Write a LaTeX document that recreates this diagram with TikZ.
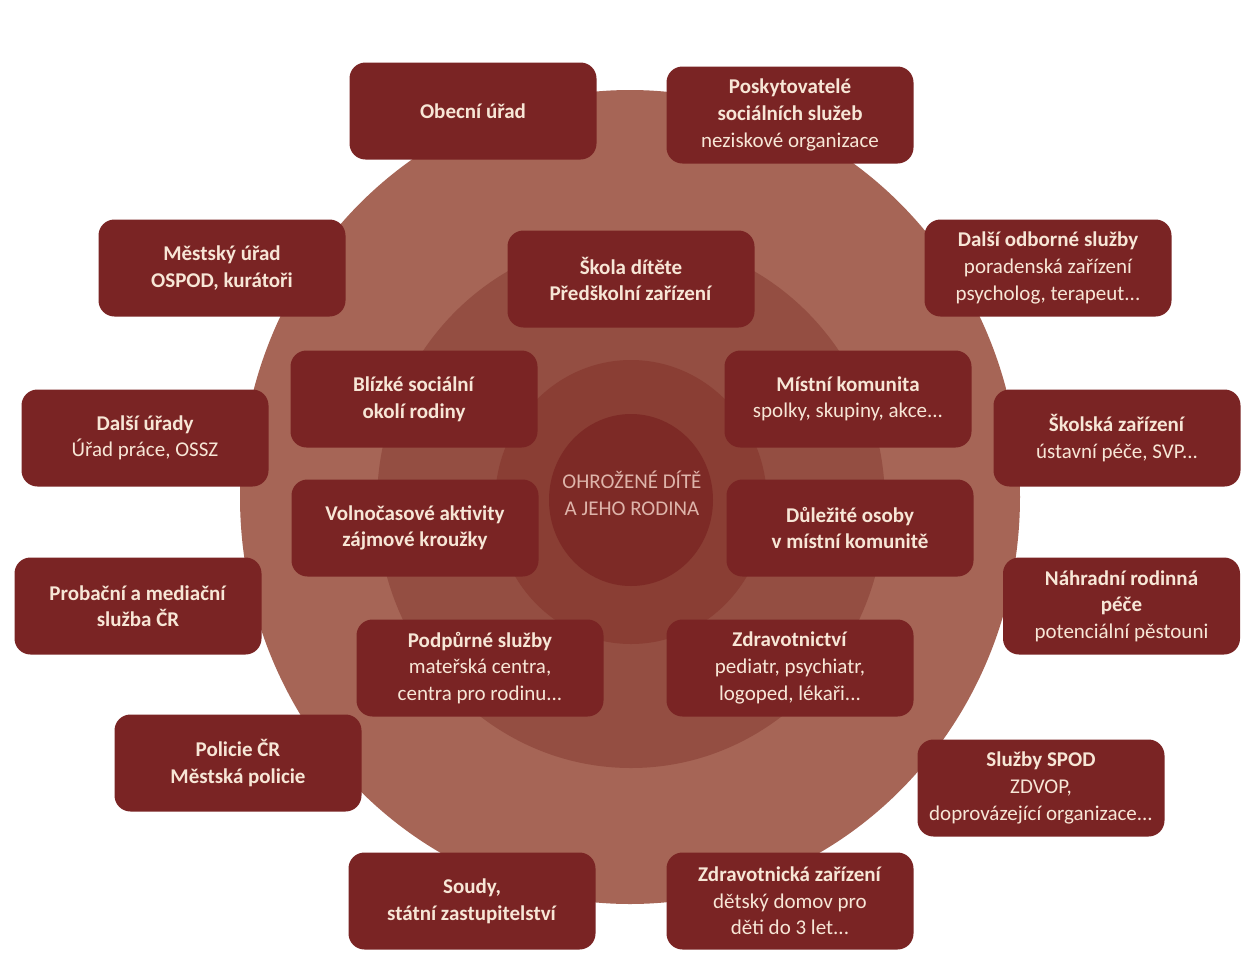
\documentclass[tikz,border=0pt]{standalone}
\usepackage{fontspec}
\setmainfont{Carlito}
\definecolor{ringA}{HTML}{A66556}
\definecolor{ringB}{HTML}{944E42}
\definecolor{ringC}{HTML}{8A3E34}
\definecolor{coreC}{HTML}{7D2A26}
\definecolor{boxC}{HTML}{7A2424}
\definecolor{txtC}{HTML}{F7E6D6}
\definecolor{coreTxt}{HTML}{DEB4AA}
\newcommand\bt[1]{\textbf{#1}}
\tikzset{
  box/.style={fill=boxC, rounded corners=8pt, minimum width=123.5pt, minimum height=48.5pt,
    align=center, text=txtC, font=\fontsize{10.5}{13.3}\selectfont, inner sep=2pt},
  core/.style={align=center, text=coreTxt, font=\fontsize{10.5}{13.5}\selectfont}
}
\begin{document}
\begin{tikzpicture}[x=0.5pt,y=-0.5pt]
\useasboundingbox (0,0) rectangle (1244,960);
\fill[white] (0,0) rectangle (1244,960);
% rings
\fill[ringA] (630,497) ellipse [x radius=195pt, y radius=203.5pt];
\fill[ringB] (631,503) ellipse [x radius=127pt, y radius=132.5pt];
\fill[ringC] (631,502) ellipse [x radius=68pt, y radius=71pt];
\fill[coreC] (631,500) ellipse [x radius=41pt, y radius=43pt];
\node[core] (child) at (632,493) {OHROŽENÉ DÍTĚ\\A JEHO RODINA};
% outer boxes
\node[box] (obec) at (473,111) {\bt{Obecní úřad}};
\node[box] (posk) at (790,115) {\bt{Poskytovatelé}\\\bt{sociálních služeb}\\neziskové organizace};
\node[box] (mest) at (222,268) {\bt{Městský úřad}\\\bt{OSPOD, kurátoři}};
\node[box] (odb) at (1048,268) {\bt{Další odborné služby}\\poradenská zařízení\\psycholog, terapeut...};
\node[box] (urady) at (145,438) {\bt{Další úřady}\\Úřad práce, OSSZ};
\node[box] (skolska) at (1117,438) {\bt{Školská zařízení}\\ústavní péče, SVP...};
\node[box] (prob) at (138,606) {\bt{Probační a mediační}\\\bt{služba ČR}};
\node[box, minimum width=118.5pt] (nrp) at (1121.5,606) {\bt{Náhradní rodinná}\\\bt{péče}\\potenciální pěstouni};
\node[box] (pol) at (238,763) {\bt{Policie ČR}\\\bt{Městská policie}};
\node[box] (spod) at (1041,788) {\bt{Služby SPOD}\\ZDVOP,\\doprovázející organizace...};
\node[box] (soudy) at (472,901) {\bt{Soudy,}\\\bt{státní zastupitelství}};
\node[box] (zdrz) at (790,901) {\bt{Zdravotnická zařízení}\\dětský domov pro\\děti do 3 let...};
% inner boxes
\node[box] (skola) at (631,279) {\bt{Škola dítěte}\\\bt{Předškolní zařízení}};
\node[box] (blizke) at (414,399) {\bt{Blízké sociální}\\\bt{okolí rodiny}};
\node[box] (mistni) at (848,399) {\bt{Místní komunita}\\spolky, skupiny, akce...};
\node[box] (volno) at (415,528) {\bt{Volnočasové aktivity}\\\bt{zájmové kroužky}};
\node[box] (osoby) at (850,528) {\bt{Důležité osoby}\\\bt{v místní komunitě}};
\node[box] (podp) at (480,668) {\bt{Podpůrné služby}\\mateřská centra,\\centra pro rodinu...};
\node[box] (zdrav) at (790,668) {\bt{Zdravotnictví}\\pediatr, psychiatr,\\logoped, lékaři...};
\end{tikzpicture}
\end{document}
